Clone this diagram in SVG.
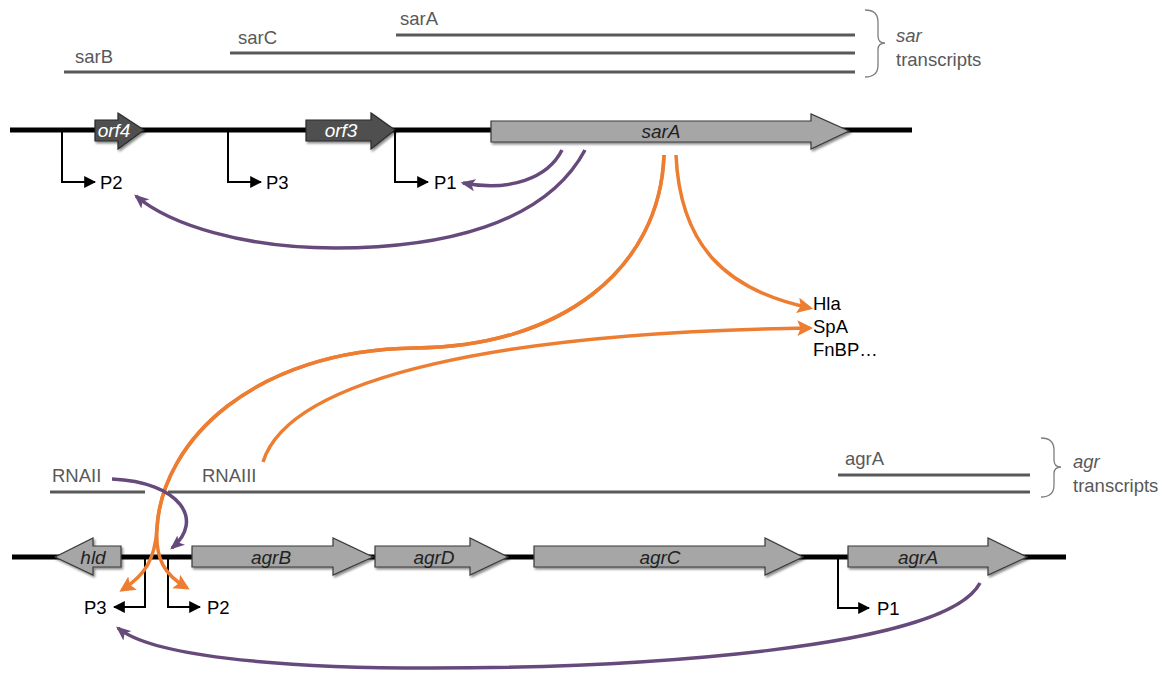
<svg xmlns="http://www.w3.org/2000/svg" width="1165" height="677" viewBox="0 0 1165 677">
  <style>
    .txt { font-family: "Liberation Sans", Arial, sans-serif; font-size: 18.5px; }
    .gl { font-size: 19px; }
    .gray { fill: #595959; }
    .it { font-style: italic; }
    .tr { stroke: #595959; stroke-width: 3; fill: none; }
    .brace { stroke: #7f7f7f; stroke-width: 1.3; fill: none; }
    .dna { stroke: #000; stroke-width: 5; }
    .gene { fill: #a6a6a6; stroke: #3a3a3a; stroke-width: 1.2; }
    .orf { fill: #505050; stroke: #2a2a2a; stroke-width: 1.2; }
    .prom { stroke: #000; stroke-width: 2; fill: none; }
    .purple { stroke: #664a7c; stroke-width: 3.5; fill: none; }
    .orange { stroke: #ed7d31; stroke-width: 3.5; fill: none; }
  </style>
  <defs>
    <filter id="shadow" x="-10%" y="-30%" width="130%" height="180%">
      <feDropShadow dx="1.5" dy="2" stdDeviation="1.2" flood-color="#000" flood-opacity="0.45"/>
    </filter>
    <marker id="promHead" viewBox="0 0 10 10" refX="9" refY="5" markerWidth="6" markerHeight="6" orient="auto" markerUnits="strokeWidth">
      <path d="M0,0 L10,5 L0,10 z" fill="#000"/>
    </marker>
    <marker id="purpleHead" viewBox="0 0 12 10" refX="10" refY="5" markerWidth="4.2" markerHeight="3.6" orient="auto" markerUnits="strokeWidth">
      <path d="M0,0 L12,5 L0,10 L3,5 z" fill="#664a7c"/>
    </marker>
    <marker id="orangeHead" viewBox="0 0 10 10" refX="8" refY="5" markerWidth="4.5" markerHeight="4.5" orient="auto" markerUnits="strokeWidth">
      <path d="M0,0 L10,5 L0,10 L2,5 z" fill="#ed7d31"/>
    </marker>
  </defs>

  <!-- sar transcripts -->
  <g id="sar-transcripts">
    <line class="tr" x1="396" y1="35" x2="855" y2="35"/>
    <line class="tr" x1="230" y1="53" x2="855" y2="53"/>
    <line class="tr" x1="64" y1="72" x2="855" y2="72"/>
    <text class="txt gray" x="400" y="25">sarA</text>
    <text class="txt gray" x="238" y="44">sarC</text>
    <text class="txt gray" x="75" y="63">sarB</text>
    <path class="brace" d="M865,10 Q878,10 878,22 L878,36 Q878,43 885,43 Q878,43 878,50 L878,65 Q878,77 865,77"/>
    <text class="txt gray it" x="896" y="42">sar</text>
    <text class="txt gray" x="896" y="66">transcripts</text>
  </g>

  <!-- sar locus -->
  <g id="sar-locus">
    <line class="dna" x1="10" y1="130" x2="912" y2="130"/>
    <g id="orf4" filter="url(#shadow)">
      <path class="orf" d="M95,120 L118,120 L118,113 L144,130 L118,149 L118,141 L95,141 z"/>
    </g>
    <text class="txt gl it" x="114" y="137" fill="#fff" text-anchor="middle">orf4</text>
    <g id="orf3" filter="url(#shadow)">
      <path class="orf" d="M306,120 L371,120 L371,113 L395,130 L371,149 L371,141 L306,141 z"/>
    </g>
    <text class="txt gl it" x="341" y="137" fill="#fff" text-anchor="middle">orf3</text>
    <g id="sarA" filter="url(#shadow)">
      <path class="gene" d="M491,121 L811,121 L811,114 L849,131 L811,149 L811,142 L491,142 z"/>
    </g>
    <text class="txt gl it" x="661" y="138" fill="#222" text-anchor="middle">sarA</text>
  </g>

  <!-- sar promoters -->
  <g id="sar-P2">
    <path class="prom" d="M62,130 L62,182 L95,182" marker-end="url(#promHead)"/>
    <text class="txt" x="100" y="189">P2</text>
  </g>
  <g id="sar-P3">
    <path class="prom" d="M228,130 L228,182 L261,182" marker-end="url(#promHead)"/>
    <text class="txt" x="266" y="189">P3</text>
  </g>
  <g id="sar-P1">
    <path class="prom" d="M395,130 L395,182 L428,182" marker-end="url(#promHead)"/>
    <text class="txt" x="434" y="189">P1</text>
  </g>

  <!-- targets -->
  <g id="targets">
    <text class="txt" x="813" y="310">Hla</text>
    <text class="txt" x="813" y="333">SpA</text>
    <text class="txt" x="813" y="356">FnBP…</text>
  </g>

  <!-- agr transcripts -->
  <g id="agr-transcripts">
    <line class="tr" x1="50" y1="492" x2="145" y2="492"/>
    <line class="tr" x1="168" y1="492" x2="1030" y2="492"/>
    <line class="tr" x1="838" y1="475" x2="1030" y2="475"/>
    <text class="txt gray" x="52" y="482">RNAII</text>
    <text class="txt gray" x="202" y="482">RNAIII</text>
    <text class="txt gray" x="845" y="465">agrA</text>
    <path class="brace" d="M1041,438 Q1054,438 1054,450 L1054,460 Q1054,467 1061,467 Q1054,467 1054,474 L1054,485 Q1054,497 1041,497"/>
    <text class="txt gray it" x="1073" y="468">agr</text>
    <text class="txt gray" x="1073" y="492">transcripts</text>
  </g>

  <!-- agr locus -->
  <g id="agr-locus">
    <line class="dna" x1="12" y1="557" x2="1066" y2="557"/>
    <g id="hld" filter="url(#shadow)">
      <path class="gene" d="M121,546 L93,546 L93,538 L55,557 L93,575 L93,567 L121,567 z"/>
    </g>
    <text class="txt gl it" x="93" y="564" fill="#222" text-anchor="middle">hld</text>
    <g id="agrB" filter="url(#shadow)">
      <path class="gene" d="M192,546 L333,546 L333,538 L373,557 L333,575 L333,567 L192,567 z"/>
    </g>
    <text class="txt gl it" x="271" y="564" fill="#222" text-anchor="middle">agrB</text>
    <g id="agrD" filter="url(#shadow)">
      <path class="gene" d="M375,546 L470,546 L470,538 L508,557 L470,575 L470,567 L375,567 z"/>
    </g>
    <text class="txt gl it" x="434" y="564" fill="#222" text-anchor="middle">agrD</text>
    <g id="agrC" filter="url(#shadow)">
      <path class="gene" d="M534,546 L765,546 L765,538 L803,557 L765,575 L765,567 L534,567 z"/>
    </g>
    <text class="txt gl it" x="660" y="564" fill="#222" text-anchor="middle">agrC</text>
    <g id="agrA" filter="url(#shadow)">
      <path class="gene" d="M848,546 L988,546 L988,538 L1027,557 L988,575 L988,567 L848,567 z"/>
    </g>
    <text class="txt gl it" x="918" y="564" fill="#222" text-anchor="middle">agrA</text>
  </g>

  <!-- agr promoters -->
  <g id="agr-P3">
    <path class="prom" d="M145,557 L145,607 L114,607" marker-end="url(#promHead)"/>
    <text class="txt" x="84" y="614">P3</text>
  </g>
  <g id="agr-P2">
    <path class="prom" d="M168,557 L168,607 L200,607" marker-end="url(#promHead)"/>
    <text class="txt" x="207" y="614">P2</text>
  </g>
  <g id="agr-P1">
    <path class="prom" d="M838,557 L838,608 L869,608" marker-end="url(#promHead)"/>
    <text class="txt" x="877" y="615">P1</text>
  </g>

  <!-- regulatory connectors -->
  <g id="connectors">
    <!-- SarA autoregulation -->
    <path class="purple" d="M562,150 C548,178 510,192 463,183" marker-end="url(#purpleHead)"/>
    <path class="purple" d="M585,150 C545,225 440,248 335,248 C245,248 170,225 136,196" marker-end="url(#purpleHead)"/>
    <!-- SarA to targets and agr -->
    <path class="orange" d="M676,155 C680,245 725,290 810,308" marker-end="url(#orangeHead)"/>
    <path class="orange" d="M664,155 C660,270 560,347 415,348 C255,350 162,440 157,528 C155,560 145,575 122,590" marker-end="url(#orangeHead)"/>
    <path class="orange" d="M664,155 C660,270 560,347 415,348 C255,350 162,440 157,528 C155,560 165,575 187,588" marker-end="url(#orangeHead)"/>
    <!-- RNAIII to targets -->
    <path class="orange" d="M263,462 C290,375 510,332 810,328" marker-end="url(#orangeHead)"/>
    <!-- RNAII / AgrA feedback -->
    <path class="purple" d="M112,479 C180,482 205,520 172,548" marker-end="url(#purpleHead)"/>
    <path class="purple" d="M980,583 C945,650 630,668 430,668 C270,668 150,655 118,628" marker-end="url(#purpleHead)"/>
  </g>
</svg>
